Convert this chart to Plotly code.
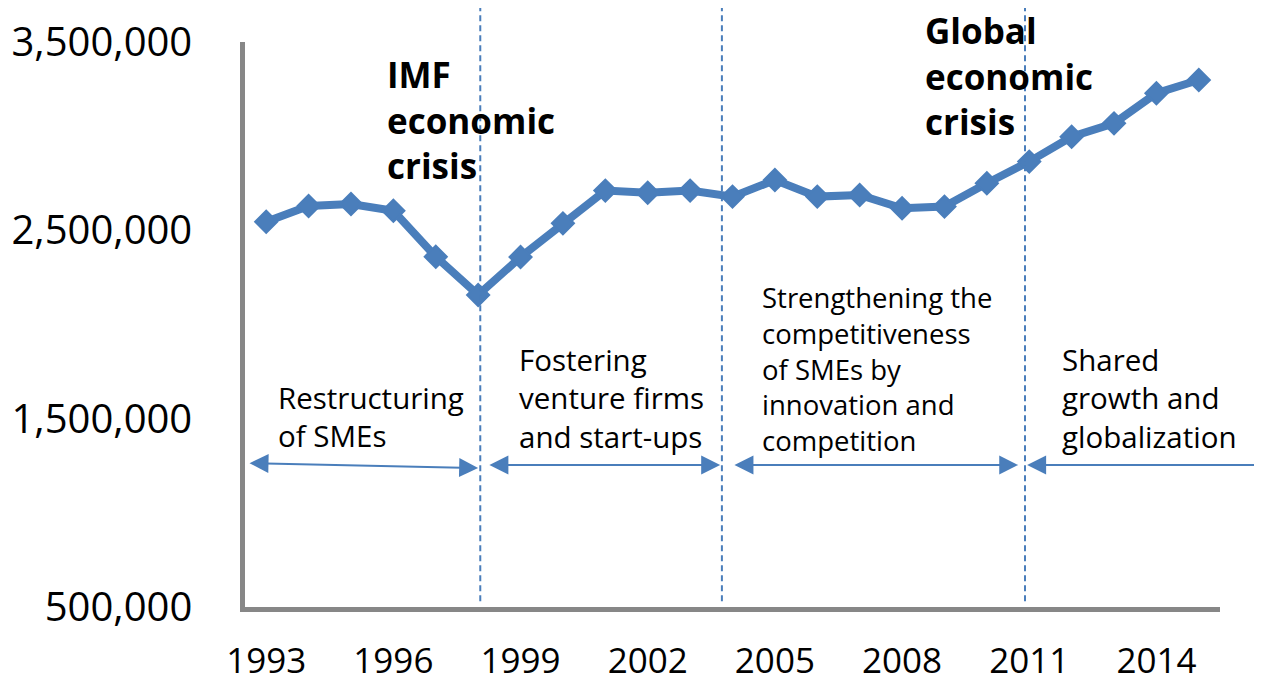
import plotly.graph_objects as go

# ---------------- data ----------------
years = list(range(1993, 2016))
sme_counts = [2546000, 2629000, 2640000, 2604000, 2360000, 2157000, 2358000,
              2537000, 2711000, 2700000, 2711000, 2679000, 2767000, 2679000,
              2688000, 2617000, 2626000, 2750000, 2865000, 2997000, 3068000,
              3228000, 3298000]

x_tick_years = [1993, 1996, 1999, 2002, 2005, 2008, 2011, 2014]
y_tick_values = [500000, 1500000, 2500000, 3500000]
y_tick_labels = ["500,000", "1,500,000", "2,500,000", "3,500,000"]

# period boundaries (dashed lines), in years
period_boundaries = [1998.05, 2003.75, 2010.9]

# policy-period arrows: (start year, end year, start value, end value, both heads)
period_arrows = [
    (1992.57, 1998.0, 1264000, 1238000, True),
    (1998.23, 2003.71, 1254000, 1254000, True),
    (2004.01, 2010.74, 1254000, 1254000, True),
    (2016.4, 2010.95, 1254000, 1254000, False),
]

# period label blocks: (text, left x paper, centre y paper, font size)
period_labels = [
    ("Restructuring<br>of SMEs", 0.0318, 0.3363, 29.5),
    ("Fostering<br>venture firms<br>and start-ups", 0.279, 0.3699, 29.5),
    ("Strengthening the<br>competitiveness<br>of SMEs by<br>innovation and<br>competition",
     0.528, 0.4212, 27.5),
    ("Shared<br>growth and<br>globalization", 0.8359, 0.3699, 29.5),
]

# crisis label blocks (bold)
crisis_labels = [
    ("IMF<br>economic<br>crisis", 0.1436, 0.8619),
    ("Global<br>economic<br>crisis", 0.6954, 0.9390),
]

BLUE = "#4A7EBB"
FONT = "Open Sans"

fig = go.Figure()
fig.add_trace(go.Scatter(
    x=years, y=sme_counts, mode="lines+markers",
    line=dict(color=BLUE, width=8),
    marker=dict(symbol="diamond", size=17, color=BLUE,
                line=dict(color=BLUE, width=2)),
    showlegend=False, hoverinfo="x+y",
))

shapes = []
for b in period_boundaries:
    shapes.append(dict(type="line", xref="x", yref="paper", x0=b, x1=b,
                       y0=0.01, y1=1.06,
                       line=dict(color=BLUE, width=2, dash="6px,4px")))

annotations = []
for x0, x1, y0, y1, both in period_arrows:
    annotations.append(dict(
        x=x1, y=y1, ax=x0, ay=y0, xref="x", yref="y", axref="x", ayref="y",
        text="", showarrow=True, arrowhead=2, startarrowhead=2,
        arrowside="end+start" if both else "end",
        arrowsize=1.9, startarrowsize=1.9, arrowwidth=2, arrowcolor=BLUE,
        standoff=0, startstandoff=0,
    ))

for txt, x, y, fs in period_labels:
    annotations.append(dict(
        x=x, y=y, xref="paper", yref="paper", text=txt, showarrow=False,
        xanchor="left", yanchor="middle", align="left",
        font=dict(family=FONT, size=fs, color="black"),
    ))

for txt, x, y in crisis_labels:
    annotations.append(dict(
        x=x, y=y, xref="paper", yref="paper", text="<b>" + txt + "</b>",
        showarrow=False, xanchor="left", yanchor="middle", align="left",
        font=dict(family=FONT, size=35, color="black"),
    ))

# the page body adds an 8px offset, so the figure is 8px smaller on each side
fig.update_layout(
    width=1254, height=675,
    margin=dict(l=237, r=42, t=34, b=76),
    paper_bgcolor="white", plot_bgcolor="white",
    shapes=shapes, annotations=annotations,
    font=dict(family=FONT, color="black"),
    xaxis=dict(
        range=[1992.5, 2015.5], tickvals=x_tick_years,
        ticktext=[str(y) for y in x_tick_years],
        showgrid=False, zeroline=False, automargin=False,
        showline=True, linecolor="#878787", linewidth=4.5,
        ticks="", ticklabelstandoff=19,
        tickfont=dict(family=FONT, size=35, color="black"),
    ),
    yaxis=dict(
        range=[500000, 3500000], tickvals=y_tick_values, ticktext=y_tick_labels,
        showgrid=False, zeroline=False, automargin=False,
        showline=True, linecolor="#878787", linewidth=4.5,
        ticks="", ticklabelstandoff=40,
        tickfont=dict(family=FONT, size=40, color="black"),
    ),
)

fig.write_html("out.html")
